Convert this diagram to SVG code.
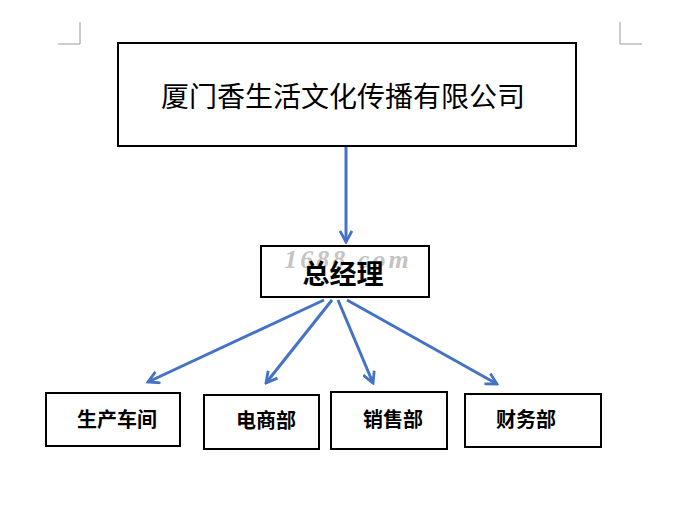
<svg xmlns="http://www.w3.org/2000/svg" width="693" height="517" viewBox="0 0 693 517">
<style>
.box{fill:#fff;stroke:#000;stroke-width:2}
.t{font-family:"Noto Sans CJK SC","Noto Sans",sans-serif;fill:#000;text-anchor:middle;dominant-baseline:central}
.c{fill:none;stroke:#4472C4;stroke-width:3}
.mark{fill:none;stroke:#999;stroke-width:1}
</style>
<defs>
<marker id="ah" viewBox="0 0 14 14" refX="12" refY="7" markerWidth="14" markerHeight="14" markerUnits="userSpaceOnUse" orient="auto">
<polyline points="1,1 12,7 1,13" fill="none" stroke="#4472C4" stroke-width="2.8"/>
</marker>
</defs>
<rect width="693" height="517" fill="#fff"/>
<g id="corners">
<polyline class="mark" points="58,44 80,44 80,22"/>
<polyline class="mark" points="620,22 620,44 642,44"/>
</g>
<g id="connectors">
<line class="c" x1="346" y1="146" x2="346" y2="242" marker-end="url(#ah)"/>
<line class="c" x1="324" y1="300" x2="148" y2="382" marker-end="url(#ah)"/>
<line class="c" x1="332" y1="300" x2="266" y2="383" marker-end="url(#ah)"/>
<line class="c" x1="338" y1="300" x2="373" y2="383" marker-end="url(#ah)"/>
<line class="c" x1="347" y1="300" x2="497" y2="384" marker-end="url(#ah)"/>
</g>
<g id="company">
<rect class="box" x="118" y="43" width="458" height="103"/>
<text class="t" x="343" y="95" font-size="28">厦门香生活文化传播有限公司</text>
</g>
<g id="gm">
<rect class="box" x="261" y="246" width="168" height="51"/>
<text x="348" y="268" font-family="'Liberation Serif',serif" font-style="italic" font-weight="bold" font-size="26" fill="#c4c4c4" text-anchor="middle" letter-spacing="3">1688.com</text>
<text class="t" x="343" y="272" font-size="27" font-weight="bold">总经理</text>
</g>
<g id="production">
<rect class="box" x="46" y="393" width="134" height="53"/>
<text class="t" x="117" y="418" font-size="20" font-weight="bold">生产车间</text>
</g>
<g id="ecommerce">
<rect class="box" x="204" y="395" width="115" height="54"/>
<text class="t" x="266" y="419" font-size="20" font-weight="bold">电商部</text>
</g>
<g id="sales">
<rect class="box" x="331" y="392" width="116" height="57"/>
<text class="t" x="393" y="418" font-size="20" font-weight="bold">销售部</text>
</g>
<g id="finance">
<rect class="box" x="465" y="394" width="136" height="53"/>
<text class="t" x="526" y="418" font-size="20" font-weight="bold">财务部</text>
</g>
</svg>
